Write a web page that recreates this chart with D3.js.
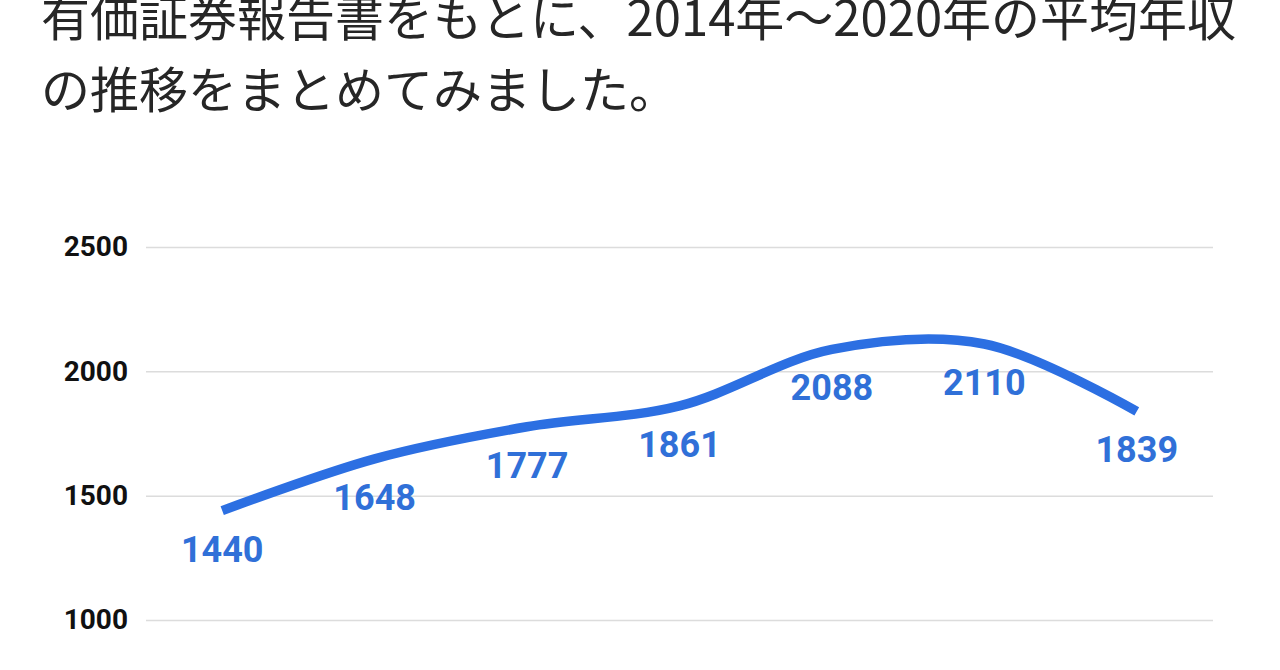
<!DOCTYPE html>
<html>
<head>
<meta charset="utf-8">
<script src="https://cdn.jsdelivr.net/npm/d3@7"></script>
<style>
  html, body { margin: 0; padding: 0; background: #fff; overflow: hidden; }
  svg { display: block; }
</style>
</head>
<body>
<div id="chart"></div>
<script>
var years = ["2014", "2015", "2016", "2017", "2018", "2019", "2020"];
var salary = [1440, 1648, 1777, 1861, 2088, 2110, 1839];
var yTicks = [1000, 1500, 2000, 2500];
var introLines = [
  "有価証券報告書をもとに、2014年～2020年の平均年収",
  "の推移をまとめてみました。"
];

var width = 1280;
var height = 670;
var plotLeft = 146, plotRight = 1213;
var plotTop = 247, plotBottom = 620;

var svg = d3
  .select("#chart")
  .append("svg")
  .attr("width", width)
  .attr("height", height);

// intro text above the chart
svg.selectAll("text.intro")
  .data(introLines)
  .enter()
  .append("text")
  .attr("class", "intro")
  .attr("x", 41)
  .attr("y", (d, i) => 36 + i * 72)
  .attr("font-family", "'Noto Sans CJK JP', sans-serif")
  .attr("font-weight", 400)
  .attr("font-size", 49)
  .attr("fill", "#262626")
  .text(d => d);

var x = d3.scalePoint().domain(years).range([plotLeft, plotRight]).padding(0.5);
var y = d3.scaleLinear().domain([1000, 2500]).range([plotBottom, plotTop]);

// gridlines + labels
var yAxis = d3.axisLeft(y)
  .tickValues(yTicks)
  .tickSize(-(plotRight - plotLeft))
  .tickPadding(18)
  .tickFormat(d3.format("d"));

var ag = svg.append("g")
  .attr("transform", "translate(" + plotLeft + ",0)")
  .call(yAxis);

ag.select(".domain").remove();
ag.selectAll(".tick line")
  .attr("stroke", "#dcdcdc")
  .attr("stroke-width", 1.5);
ag.selectAll(".tick text")
  .attr("font-family", "Roboto, Arial, sans-serif")
  .attr("font-weight", 700)
  .attr("font-size", 28)
  .attr("fill", "#111");

var line = d3.line()
  .x((d, i) => x(years[i]))
  .y(d => y(d))
  .curve(d3.curveCatmullRom.alpha(0.5));

svg.append("path")
  .datum(salary)
  .attr("d", line)
  .attr("fill", "none")
  .attr("stroke", "#2c6fe2")
  .attr("stroke-width", 9.5)
  .attr("stroke-linecap", "butt");

svg.selectAll("text.val")
  .data(salary)
  .enter()
  .append("text")
  .attr("class", "val")
  .attr("x", (d, i) => x(years[i]))
  .attr("y", d => y(d) + 51)
  .attr("text-anchor", "middle")
  .attr("font-family", "Roboto, Arial, sans-serif")
  .attr("font-weight", 700)
  .attr("font-size", 36)
  .attr("fill", "#3070d8")
  .text(d => d);
</script>
</body>
</html>
